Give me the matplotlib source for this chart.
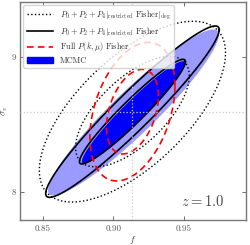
import numpy as np
import matplotlib
matplotlib.use("Agg")
import matplotlib.pyplot as plt
from matplotlib.patches import Patch
from matplotlib.lines import Line2D

plt.rcParams['mathtext.fontset'] = 'cm'
plt.rcParams['font.family'] = 'serif'
plt.rcParams['font.serif'] = ['cmr10', 'DejaVu Serif']
plt.rcParams['axes.formatter.use_mathtext'] = True

# fiducial values (f, sigma_v)
fiducial = [0.9135, 8.596]

# forecast parameter errors: (sigma_f, sigma_sigmav, correlation)
fisher_deg = [0.0265, 0.270, 0.65]
fisher_restricted = [0.0247, 0.256, 0.955]
fisher_full = [0.0121, 0.207, 0.37]
mcmc_inner = [0.0240, 0.250, 0.955]
mcmc_outer = [0.0243, 0.248, 0.935]
mcmc_center = [0.9142, 8.590]

# 2D confidence levels (delta chi^2 for 68% and 95%)
dchi2 = [2.30, 6.17]

xticks = [0.85, 0.90, 0.95]
yticks = [8, 9]
redshift_label = r'$z=1.0$'


def ellipse_pts(center, pars, d2, n=400):
    sf, ss, rho = pars
    cov = np.array([[sf**2, rho*sf*ss], [rho*sf*ss, ss**2]])
    L = np.linalg.cholesky(cov)
    t = np.linspace(0, 2*np.pi, n)
    circ = np.vstack([np.cos(t), np.sin(t)]) * np.sqrt(d2)
    pts = L @ circ
    return center[0] + pts[0], center[1] + pts[1]


fig = plt.figure(figsize=(2.5, 2.45), dpi=100)
ax = fig.add_axes([0.08, 0.102, 0.904, 0.890])

# MCMC filled contours
x, y = ellipse_pts(mcmc_center, mcmc_outer, dchi2[1])
ax.fill(x, y, color='#9a9aff', lw=0, zorder=1)
x, y = ellipse_pts(mcmc_center, mcmc_inner, dchi2[0])
ax.fill(x, y, color='#0000ff', lw=0, zorder=2)

for d2 in dchi2:
    x, y = ellipse_pts(fiducial, fisher_deg, d2)
    ax.plot(x, y, ls=':', color='k', lw=1.0, zorder=3)
    x, y = ellipse_pts(fiducial, fisher_restricted, d2)
    ax.plot(x, y, ls='-', color='k', lw=1.2, zorder=4)
    x, y = ellipse_pts(fiducial, fisher_full, d2)
    ax.plot(x, y, ls=(0, (4, 2.5)), color='red', lw=1.2, zorder=5)

ax.axvline(fiducial[0], color='#cccccc', ls=':', lw=0.9, zorder=6)
ax.axhline(fiducial[1], color='#cccccc', ls=':', lw=0.9, zorder=6)

ax.set_xlim(0.834, 0.9938)
ax.set_ylim(7.792, 9.41)
ax.set_xticks(xticks)
ax.set_xticklabels(['%.2f' % v for v in xticks])
ax.set_yticks(yticks)
ax.set_yticklabels(['%d' % v for v in yticks])
ax.tick_params(direction='in', top=True, right=True, labelsize=6.5,
               colors='#555555', length=3, width=0.6, pad=3)
for s in ax.spines.values():
    s.set_color('#777777')
    s.set_linewidth(1.0)

ax.set_xlabel(r'$f$', fontsize=7, color='#444444', labelpad=1)
ax.set_ylabel(r'$\sigma_v$', fontsize=7, color='#444444', labelpad=1)

ax.text(0.81, 0.085, redshift_label, transform=ax.transAxes, fontsize=10.5,
        color='#444444', ha='center', va='center')

handles = [
    Line2D([], [], ls=':', color='k', lw=1.0),
    Line2D([], [], ls='-', color='k', lw=1.2),
    Line2D([], [], ls=(0, (4, 2.5)), color='red', lw=1.2),
    Patch(facecolor='#0000ff', edgecolor='#0000ff'),
]
labels = [
    r'$P_0+P_2+P_4|_{\rm restricted}$ Fisher$|_{\rm deg}$',
    r'$P_0+P_2+P_4|_{\rm restricted}$ Fisher',
    r'Full $P(k,\mu)$ Fisher',
    'MCMC',
]
leg = ax.legend(handles, labels, loc='upper left', fontsize=6, frameon=True,
                framealpha=0.8, edgecolor='#cccccc', fancybox=True,
                handlelength=3.2, borderaxespad=0.4, labelspacing=0.35,
                handletextpad=0.8, borderpad=0.4)
for t in leg.get_texts():
    t.set_color('#333333')
leg.set_zorder(10)

fig.savefig('out.png', dpi=100)
